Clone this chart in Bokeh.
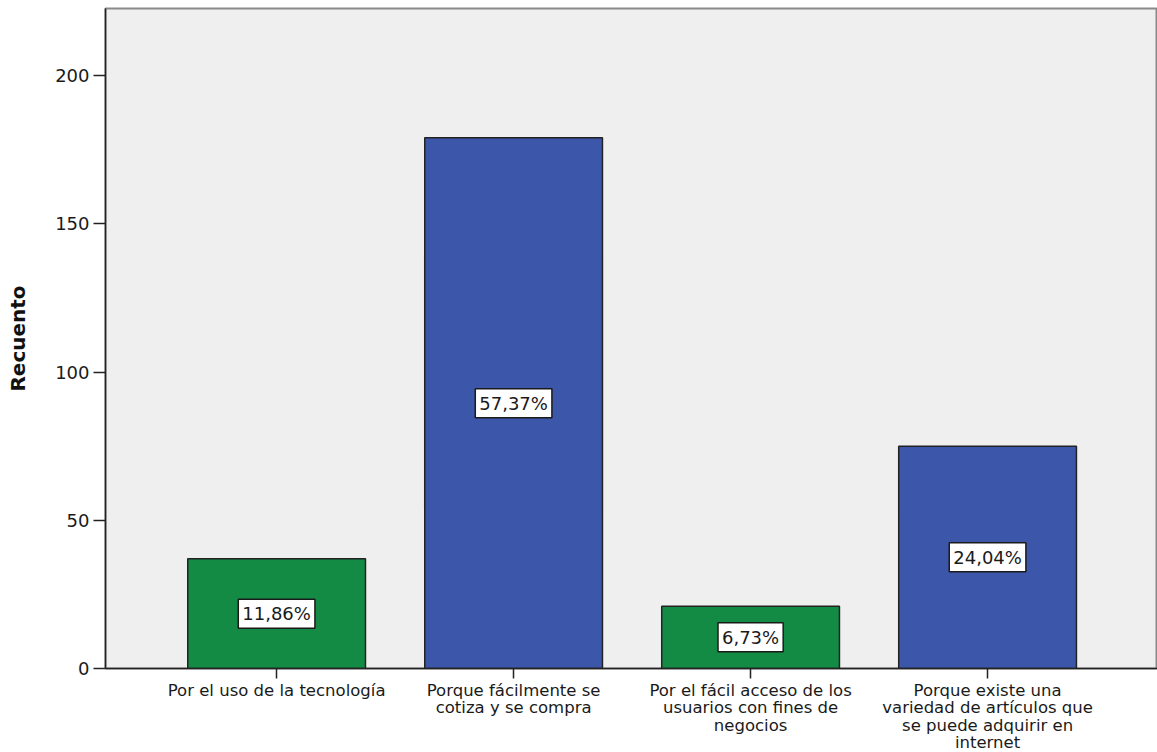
from bokeh.plotting import figure
from bokeh.layouts import column
from bokeh.models import ColumnDataSource, Range1d, FixedTicker, Label
from bokeh.core.properties import value
from bokeh.embed import file_html
from bokeh.resources import INLINE

categories = [
    "Por el uso de la tecnología",
    "Porque fácilmente se\ncotiza y se compra",
    "Por el fácil acceso de los\nusuarios con fines de\nnegocios",
    "Porque existe una\nvariedad de artículos que\nse puede adquirir en\ninternet",
]
counts = [37, 179, 21, 75]
pct_labels = ["11,86%", "57,37%", "6,73%", "24,04%"]
colors = ["#138B45", "#3C57A9", "#138B45", "#3C57A9"]
y_ticks = [0, 50, 100, 150, 200]

FONT = "DejaVu Sans"
LINE_STEP = 17.5

xs = list(range(1, len(categories) + 1))
src = ColumnDataSource(dict(x=xs, top=counts, color=colors))

xr = Range1d(0.278, 4.717)

p = figure(width=1157, height=680, output_backend="svg", toolbar_location=None,
           x_range=xr, y_range=Range1d(0, 222.6),
           min_border_left=105, min_border_right=0, min_border_top=8,
           min_border_bottom=12)
p.background_fill_color = "#EFEFEF"
p.border_fill_color = "white"
p.outline_line_color = "#8A8A8A"
p.outline_line_width = 2
p.grid.visible = False

p.vbar(x="x", top="top", bottom=0, width=0.75, source=src,
       fill_color="color", line_color="#222222", line_width=1.5)

for xv, c, lab in zip(xs, counts, pct_labels):
    p.add_layout(Label(x=xv, y=c / 2, text=lab,
                       text_align="center", text_baseline="middle",
                       text_font=FONT, text_font_size="18px",
                       text_color="#1A1A1A",
                       background_fill_color="white",
                       border_line_color="#1A1A1A", border_line_width=1.5,
                       padding=4))

p.xaxis.ticker = FixedTicker(ticks=xs)
p.xaxis.major_label_overrides = {x: "" for x in xs}
p.xaxis.major_label_standoff = 0
p.xaxis.minor_tick_line_color = None
p.xaxis.major_tick_out = 10
p.xaxis.major_tick_in = 0
p.xaxis.major_tick_line_color = "#222222"
p.xaxis.major_tick_line_width = 1.5
p.xaxis.axis_line_color = "#222222"
p.xaxis.axis_line_width = 1.5

p.yaxis.ticker = FixedTicker(ticks=y_ticks)
p.yaxis.minor_tick_line_color = None
p.yaxis.major_tick_out = 12
p.yaxis.major_tick_in = 0
p.yaxis.major_tick_line_color = "#222222"
p.yaxis.major_tick_line_width = 1.5
p.yaxis.major_label_text_font = FONT
p.yaxis.major_label_text_font_size = "18px"
p.yaxis.major_label_text_color = "#1A1A1A"
p.yaxis.major_label_standoff = 4
p.yaxis.axis_line_color = "#222222"
p.yaxis.axis_line_width = 1.5
p.yaxis.axis_label = "Recuento"
p.yaxis.axis_label_text_font = FONT
p.yaxis.axis_label_text_font_style = "bold"
p.yaxis.axis_label_text_font_size = "20px"
p.yaxis.axis_label_text_color = "#111111"
p.yaxis.axis_label_standoff = 22

# strip below the chart holding the category names (one text per line)
line_x, line_y, line_t = [], [], []
for xv, cat in zip(xs, categories):
    for i, ln in enumerate(cat.split("\n")):
        line_x.append(xv)
        line_y.append(-LINE_STEP * i)
        line_t.append(ln)

q = figure(width=1157, height=72, output_backend="svg", toolbar_location=None,
           x_range=xr, y_range=Range1d(-72, 0),
           min_border_left=105, min_border_right=0, min_border_top=0,
           min_border_bottom=0)
q.axis.visible = False
q.grid.visible = False
q.outline_line_color = None
q.background_fill_color = "white"
q.border_fill_color = "white"
q.text(x=line_x, y=line_y, text=line_t,
       text_align="center", text_baseline="top",
       text_font=value(FONT), text_font_size="16.5px",
       text_color="#1A1A1A")

layout = column(p, q, spacing=0)
open("out.html", "w").write(file_html(layout, INLINE))
